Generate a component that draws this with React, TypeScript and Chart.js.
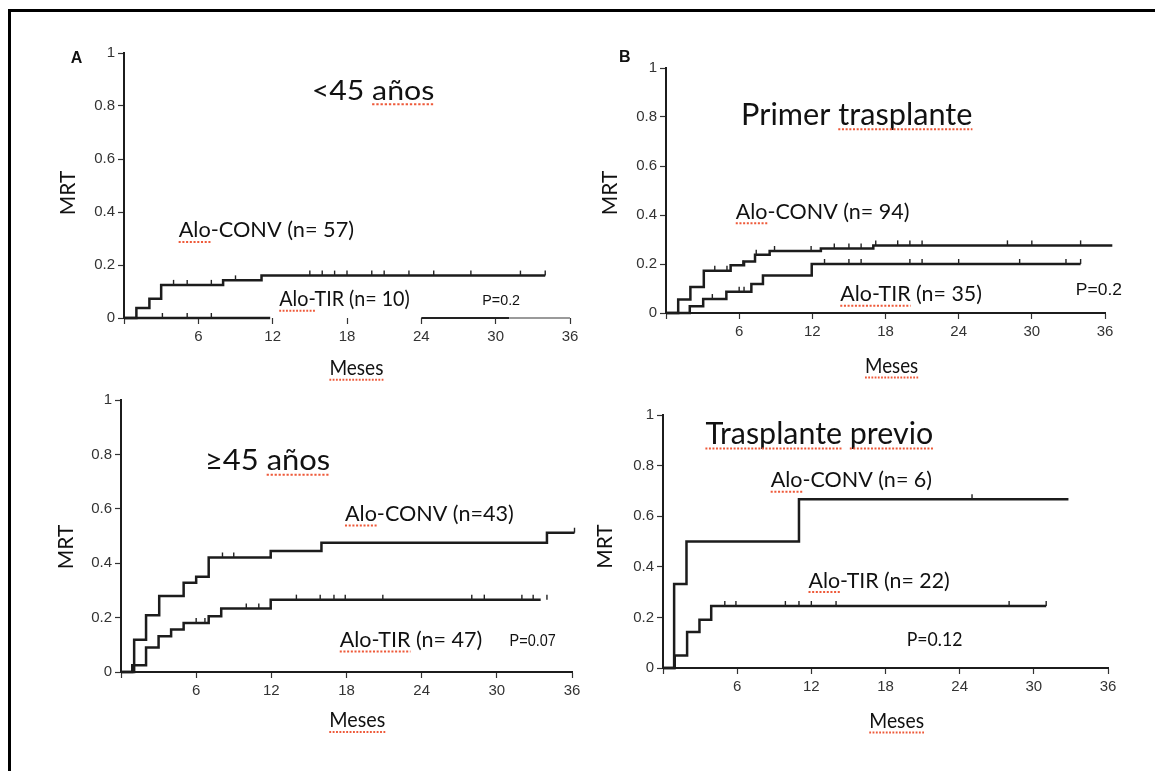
import React, { useEffect, useRef } from 'react';
import { Chart, registerables } from 'chart.js';

Chart.register(...registerables);

// ---------- data (months, cumulative MRT) ----------
const X_TICKS = [0, 6, 12, 18, 24, 30, 36];
const Y_TICKS = [0, 0.2, 0.4, 0.6, 0.8, 1];

// Panel A: <45 años
const A_CONV_T = [0, 1.0, 2.05, 3.0, 8.0, 11.1, 34.0];
const A_CONV_V = [0, 0.038, 0.073, 0.125, 0.142, 0.16, 0.16];
const A_CONV_CENS = [4.0, 5.1, 7.05, 9.0, 15.0, 16.0, 17.0, 18.0, 20.0, 21.0, 23.0, 25.0, 28.0, 32.0, 34.0];
const A_TIR_T = [0, 11.8];
const A_TIR_V = [0, 0];
const A_TIR_CENS = [3.1, 5.1, 7.05];

// Panel B: Primer trasplante
const B_CONV_T = [0, 1.0, 2.0, 3.1, 5.3, 6.4, 7.3, 8.5, 12.7, 17.0, 36.6];
const B_CONV_V = [0, 0.055, 0.106, 0.172, 0.195, 0.21, 0.238, 0.253, 0.263, 0.276, 0.276];
const B_CONV_CENS = [4.0, 5.0, 6.3, 7.4, 8.9, 11.9, 13.8, 15.0, 16.0, 17.2, 19.0, 20.0, 21.0, 28.0, 30.0, 34.0];
const B_TIR_T = [0, 1.95, 3.05, 4.95, 7.0, 7.95, 11.95, 34.0];
const B_TIR_V = [0, 0.028, 0.057, 0.087, 0.118, 0.153, 0.2, 0.2];
const B_TIR_CENS = [3.8, 6.0, 6.4, 13.0, 15.0, 16.0, 20.0, 21.0, 24.0, 29.0, 32.8, 34.0];

// Panel C: >=45 años
const C_CONV_T = [0, 1.05, 2.0, 3.05, 5.0, 6.0, 7.0, 11.95, 16.0, 34.0, 36.2];
const C_CONV_V = [0, 0.119, 0.209, 0.279, 0.328, 0.35, 0.421, 0.445, 0.475, 0.512, 0.512];
const C_CONV_CENS = [8.1, 9.0, 36.2];
const C_TIR_T = [0, 0.9, 2.0, 3.0, 4.0, 5.0, 7.0, 8.0, 11.95, 33.5];
const C_TIR_V = [0, 0.025, 0.09, 0.131, 0.156, 0.18, 0.205, 0.233, 0.266, 0.266];
const C_TIR_CENS = [6.0, 6.7, 10.0, 11.0, 14.0, 15.9, 17.0, 17.9, 20.9, 28.0, 29.0, 32.0, 32.9, 34.0];

// Panel D: Trasplante previo
const D_CONV_T = [0, 0.9, 1.9, 11.0, 32.8];
const D_CONV_V = [0, 0.332, 0.5, 0.667, 0.667];
const D_CONV_CENS = [25.0];
const D_TIR_T = [0, 0.95, 1.95, 2.95, 3.9, 31.0];
const D_TIR_V = [0, 0.049, 0.142, 0.191, 0.245, 0.245];
const D_TIR_CENS = [5.0, 5.9, 9.9, 11.0, 12.0, 14.0, 28.0, 31.0];

// ---------- layout / annotation config ----------
const GILL = 'Lato, "Open Sans", sans-serif';
const HELV = '"Liberation Sans", Arial, sans-serif';
const PADL = 90, PADT = 40, PADR = 60, PADB = 90;

type Lbl = {
  text: string; x: number; y: number; size: number; family?: string; weight?: string;
  w?: number; align?: 'left' | 'center'; rotate?: boolean; ul?: number[][];
};
type Series = { t: number[]; v: number[]; cens: number[] };
type PanelCfg = {
  area: { l: number; t: number; r: number; b: number };
  series: Series[];
  labels: Lbl[];
  hideXBorder?: boolean;
  axisSegs?: { from: number; to: number; color: string }[];
};

const PANELS: PanelCfg[] = [
  {
    area: { l: 124, t: 53, r: 570, b: 318 },
    series: [
      { t: A_CONV_T, v: A_CONV_V, cens: A_CONV_CENS },
      { t: A_TIR_T, v: A_TIR_V, cens: A_TIR_CENS },
    ],
    hideXBorder: true,
    axisSegs: [
      { from: 24, to: 31.1, color: '#222' },
      { from: 31.1, to: 36, color: '#9a9a9a' },
    ],
    labels: [
      { text: 'A', x: -4.3, y: 0.962, size: 16, family: HELV, weight: 'bold' },
      { text: '<45 años', x: 15.15, y: 0.824, size: 26, w: 9.9, ul: [[4, 8]] },
      { text: 'Alo-CONV (n= 57)', x: 4.41, y: 0.304, size: 21, w: 14.16, ul: [[0, 3]] },
      { text: 'Alo-TIR (n= 10)', x: 12.53, y: 0.044, size: 21, w: 10.54, ul: [[0, 4]] },
      { text: 'P=0.2', x: 28.92, y: 0.048, size: 14, family: HELV, w: 3.05 },
      { text: 'MRT', x: -4.52, y: 0.472, size: 21, rotate: true },
      { text: 'Meses', x: 18.76, y: -0.216, size: 21, w: 4.36, align: 'center', ul: [[0, 5]] },
    ],
  },
  {
    area: { l: 666, t: 68, r: 1105, b: 313 },
    series: [
      { t: B_CONV_T, v: B_CONV_V, cens: B_CONV_CENS },
      { t: B_TIR_T, v: B_TIR_V, cens: B_TIR_CENS },
    ],
    labels: [
      { text: 'B', x: -3.86, y: 1.024, size: 16, family: HELV, weight: 'bold' },
      { text: 'Primer trasplante', x: 6.16, y: 0.768, size: 30, w: 18.97, ul: [[7, 17]] },
      { text: 'Alo-CONV (n= 94)', x: 5.72, y: 0.385, size: 21, w: 14.24, ul: [[0, 3]] },
      { text: 'Alo-TIR (n= 35)', x: 14.29, y: 0.048, size: 21, w: 11.62, ul: [[0, 7]] },
      { text: 'P=0.2', x: 33.61, y: 0.075, size: 17, family: HELV, w: 3.78 },
      { text: 'MRT', x: -4.6, y: 0.49, size: 21, rotate: true },
      { text: 'Meses', x: 18.5, y: -0.245, size: 21, w: 4.36, align: 'center', ul: [[0, 5]] },
    ],
  },
  {
    area: { l: 121, t: 400, r: 572, b: 672 },
    series: [
      { t: C_CONV_T, v: C_CONV_V, cens: C_CONV_CENS },
      { t: C_TIR_T, v: C_TIR_V, cens: C_TIR_CENS },
    ],
    labels: [
      { text: '≥45 años', x: 6.7, y: 0.742, size: 28, w: 10.0, ul: [[4, 8]] },
      { text: 'Alo-CONV (n=43)', x: 17.88, y: 0.555, size: 21, w: 13.47, ul: [[0, 3]] },
      { text: 'Alo-TIR (n= 47)', x: 17.46, y: 0.092, size: 21, w: 11.38, ul: [[0, 7]] },
      { text: 'P=0.07', x: 31.02, y: 0.094, size: 16, family: HELV, w: 3.69 },
      { text: 'MRT', x: -4.35, y: 0.46, size: 21, rotate: true },
      { text: 'Meses', x: 18.86, y: -0.204, size: 21, w: 4.47, align: 'center', ul: [[0, 5]] },
    ],
  },
  {
    area: { l: 663, t: 415, r: 1108, b: 668 },
    series: [
      { t: D_CONV_T, v: D_CONV_V, cens: D_CONV_CENS },
      { t: D_TIR_T, v: D_TIR_V, cens: D_TIR_CENS },
    ],
    labels: [
      { text: 'Trasplante previo', x: 3.43, y: 0.885, size: 31, w: 18.43, ul: [[0, 10], [11, 17]] },
      { text: 'Alo-CONV (n= 6)', x: 8.71, y: 0.714, size: 21, w: 13.06, ul: [[0, 3]] },
      { text: 'Alo-TIR (n= 22)', x: 11.77, y: 0.318, size: 21, w: 11.43, ul: [[0, 3]] },
      { text: 'P=0.12', x: 19.71, y: 0.088, size: 20, w: 4.51 },
      { text: 'MRT', x: -4.71, y: 0.48, size: 21, rotate: true },
      { text: 'Meses', x: 18.9, y: -0.237, size: 21, w: 4.43, align: 'center', ul: [[0, 5]] },
    ],
  },
];

function stepValue(s: Series, t: number) {
  let v = 0;
  for (let i = 0; i < s.t.length; i++) if (s.t[i] <= t) v = s.v[i];
  return v;
}

function Panel({ cfg }: { cfg: PanelCfg }) {
  const ref = useRef<HTMLCanvasElement>(null);
  const { l, t, r, b } = cfg.area;
  const W = r - l + PADL + PADR;
  const H = b - t + PADT + PADB;

  useEffect(() => {
    const canvas = ref.current;
    if (!canvas) return;

    const censorPlugin = {
      id: 'kmCensor',
      afterDatasetsDraw(chart: any) {
        const { ctx, scales } = chart;
        const xs = scales.x, ys = scales.y;
        ctx.save();
        ctx.strokeStyle = '#222';
        ctx.lineWidth = 1.4;
        cfg.series.forEach((s) => {
          s.cens.forEach((c) => {
            const px = xs.getPixelForValue(c);
            const py = ys.getPixelForValue(stepValue(s, c));
            ctx.beginPath();
            ctx.moveTo(px, py);
            ctx.lineTo(px, py - 5);
            ctx.stroke();
          });
        });
        if (cfg.axisSegs) {
          const y0 = ys.getPixelForValue(0);
          cfg.axisSegs.forEach((sg) => {
            ctx.strokeStyle = sg.color;
            ctx.lineWidth = 2;
            ctx.beginPath();
            ctx.moveTo(xs.getPixelForValue(sg.from), y0);
            ctx.lineTo(xs.getPixelForValue(sg.to), y0);
            ctx.stroke();
          });
        }
        ctx.restore();
      },
    };

    const textPlugin = {
      id: 'kmText',
      afterDraw(chart: any) {
        const { ctx, scales } = chart;
        const xs = scales.x, ys = scales.y;
        cfg.labels.forEach((lb) => {
          ctx.save();
          ctx.font = `${lb.weight || 'normal'} ${lb.size}px ${lb.family || GILL}`;
          ctx.fillStyle = '#111';
          const px = xs.getPixelForValue(lb.x);
          const py = ys.getPixelForValue(lb.y);
          const nat = ctx.measureText(lb.text).width;
          let sx = 1;
          if (lb.w) sx = (xs.getPixelForValue(lb.x + lb.w) - px) / nat;
          ctx.translate(px, py);
          if (lb.rotate) {
            ctx.rotate(-Math.PI / 2);
            ctx.textAlign = 'center';
            ctx.textBaseline = 'middle';
          } else {
            ctx.textAlign = lb.align || 'left';
            ctx.textBaseline = 'alphabetic';
          }
          ctx.scale(sx, 1);
          ctx.fillText(lb.text, 0, 0);
          if (lb.ul) {
            const off = lb.align === 'center' ? -nat / 2 : 0;
            ctx.strokeStyle = '#ee5a3a';
            ctx.lineWidth = 2;
            ctx.setLineDash([2, 1.6]);
            lb.ul.forEach(([s0, s1]) => {
              const a = ctx.measureText(lb.text.slice(0, s0)).width + off;
              const e = ctx.measureText(lb.text.slice(0, s1)).width + off;
              ctx.beginPath();
              ctx.moveTo(a, 4.5);
              ctx.lineTo(e, 4.5);
              ctx.stroke();
            });
          }
          ctx.restore();
        });
      },
    };

    const fixX = (s: any) => {
      s.height = PADB - 10;
      s.paddingLeft = 0; s.paddingRight = 0; s.paddingTop = 0; s.paddingBottom = 0;
    };
    const fixY = (s: any) => {
      s.width = PADL - 10;
      s.paddingLeft = 0; s.paddingRight = 0; s.paddingTop = 0; s.paddingBottom = 0;
    };

    const chart = new Chart(canvas, {
      type: 'line',
      data: {
        datasets: cfg.series.map((s) => ({
          data: s.t.map((x, i) => ({ x, y: s.v[i] })),
          stepped: 'before' as const,
          borderColor: '#1c1c1c',
          borderWidth: 2.5,
          pointRadius: 0,
          fill: false,
          clip: false as any,
        })),
      },
      options: {
        responsive: false,
        animation: false,
        devicePixelRatio: 1,
        layout: { padding: { left: 10, top: PADT, right: PADR, bottom: 10 } },
        plugins: { legend: { display: false }, tooltip: { enabled: false } },
        scales: {
          x: {
            type: 'linear',
            min: X_TICKS[0],
            max: X_TICKS[X_TICKS.length - 1],
            afterBuildTicks: (s: any) => { s.ticks = X_TICKS.map((v) => ({ value: v })); },
            border: { display: !cfg.hideXBorder, color: '#1c1c1c', width: 2 },
            grid: { drawOnChartArea: false, drawTicks: true, tickLength: 6, tickColor: '#333', tickWidth: 1.2 },
            ticks: {
              color: '#333',
              font: { family: HELV, size: 15 },
              padding: 4,
              maxRotation: 0,
              autoSkip: false,
              callback: (v: any) => (Number(v) === 0 ? '' : String(v)),
            },
            afterFit: fixX,
          },
          y: {
            type: 'linear',
            min: Y_TICKS[0],
            max: Y_TICKS[Y_TICKS.length - 1],
            afterBuildTicks: (s: any) => { s.ticks = Y_TICKS.map((v) => ({ value: v })); },
            border: { display: true, color: '#1c1c1c', width: 2 },
            grid: { drawOnChartArea: false, drawTicks: true, tickLength: 6, tickColor: '#333', tickWidth: 1.2 },
            ticks: {
              color: '#333',
              font: { family: HELV, size: 15 },
              padding: 3,
              autoSkip: false,
              callback: (v: any) => String(Math.round(Number(v) * 10) / 10),
            },
            afterFit: fixY,
          },
        },
      },
      plugins: [censorPlugin, textPlugin],
    } as any);
    return () => chart.destroy();
  }, [cfg]);

  return (
    <canvas
      ref={ref}
      width={W}
      height={H}
      style={{ position: 'absolute', left: l - PADL, top: t - PADT, width: W, height: H }}
    />
  );
}

export default function App() {
  return (
    <div
      style={{
        position: 'fixed', left: 0, top: 0, width: 1155, height: 771,
        background: '#fff', overflow: 'hidden',
      }}
    >
      <div
        style={{
          position: 'absolute', left: 8, top: 9, right: -10, bottom: -10,
          borderTop: '3px solid #000', borderLeft: '3px solid #000',
        }}
      />
      {PANELS.map((p, i) => (
        <Panel key={i} cfg={p} />
      ))}
    </div>
  );
}
